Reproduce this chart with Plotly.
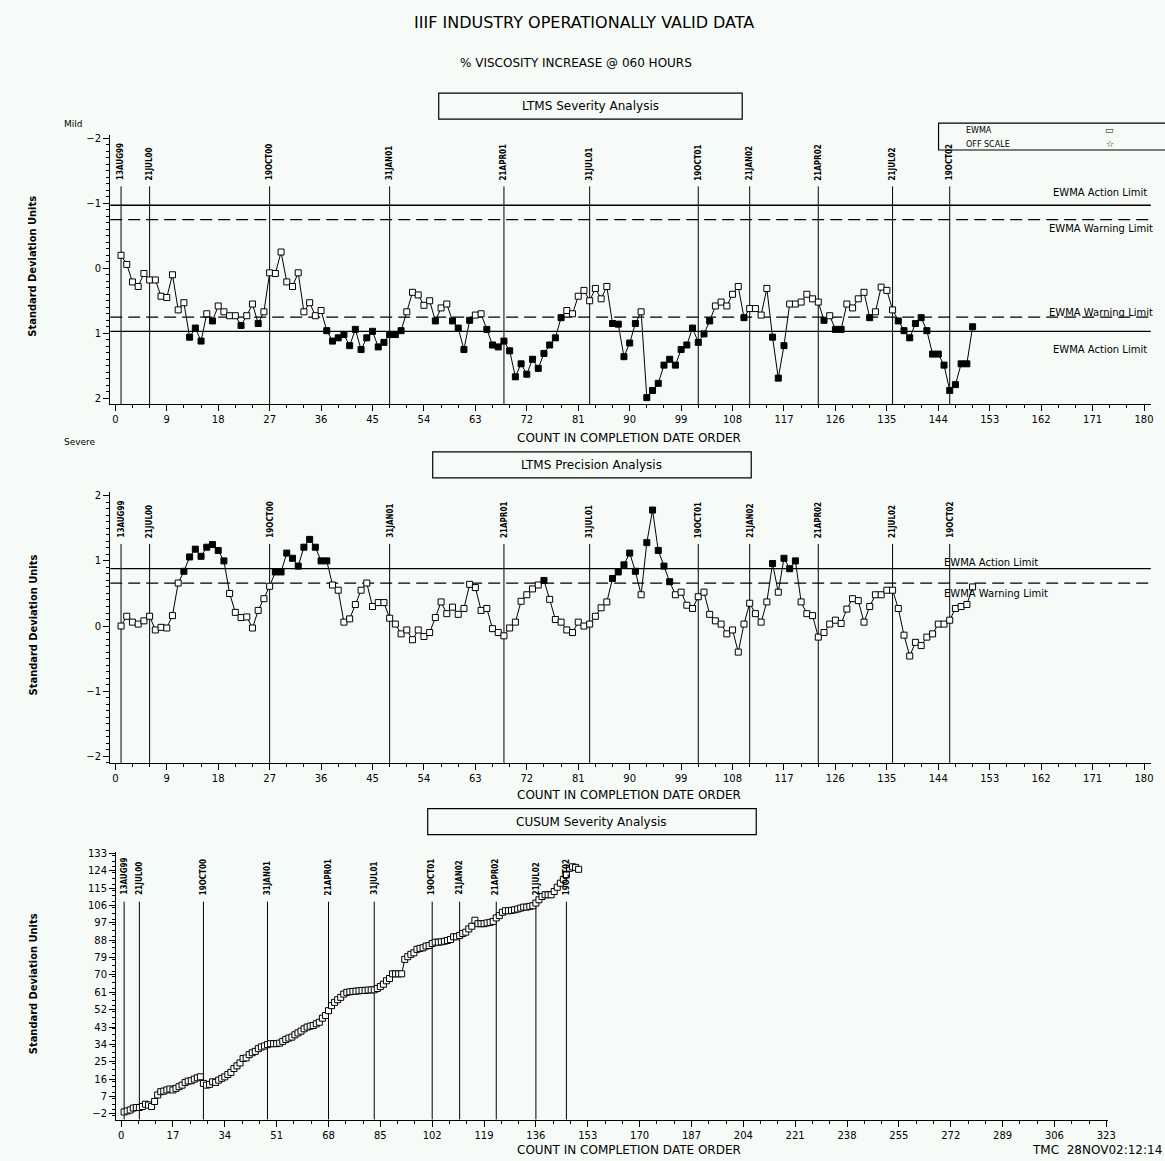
import plotly.graph_objects as go

# ---------------- data ----------------
RUN = list(range(1, 151))

SEVERITY_EWMA = [
    -0.20, -0.06, 0.21, 0.28, 0.08, 0.18, 0.18, 0.43, 0.45, 0.10,
    0.64, 0.53, 1.06, 0.92, 1.12, 0.70, 0.81, 0.58, 0.67, 0.73,
    0.73, 0.88, 0.73, 0.55, 0.85, 0.67, 0.07, 0.08, -0.25, 0.21,
    0.28, 0.07, 0.67, 0.53, 0.73, 0.65, 0.96, 1.12, 1.07, 1.02,
    1.19, 0.94, 1.25, 1.07, 0.97, 1.21, 1.14, 1.02, 1.02, 0.96,
    0.67, 0.37, 0.41, 0.57, 0.50, 0.81, 0.61, 0.55, 0.81, 0.92,
    1.25, 0.80, 0.72, 0.70, 0.94, 1.18, 1.21, 1.12, 1.27, 1.67,
    1.47, 1.63, 1.40, 1.54, 1.31, 1.18, 1.07, 0.76, 0.65, 0.70,
    0.43, 0.34, 0.50, 0.31, 0.47, 0.28, 0.85, 0.86, 1.36, 1.15,
    0.85, 0.67, 1.99, 1.88, 1.77, 1.49, 1.40, 1.49, 1.25, 1.18,
    0.92, 1.14, 1.01, 0.81, 0.58, 0.52, 0.58, 0.40, 0.28, 0.76,
    0.62, 0.62, 0.72, 0.31, 1.06, 1.69, 1.19, 0.55, 0.55, 0.52,
    0.40, 0.47, 0.52, 0.80, 0.73, 0.94, 0.94, 0.55, 0.61, 0.47,
    0.37, 0.76, 0.67, 0.29, 0.34, 0.64, 0.81, 0.96, 1.07, 0.85,
    0.76, 0.96, 1.32, 1.32, 1.49, 1.88, 1.79, 1.47, 1.47, 0.90,
]

PRECISION_EWMA = [
    0.00, 0.15, 0.06, 0.03, 0.08, 0.15, -0.06, -0.02, -0.03, 0.16,
    0.66, 0.84, 1.06, 1.18, 1.07, 1.21, 1.25, 1.16, 1.00, 0.50,
    0.21, 0.13, 0.14, -0.03, 0.24, 0.42, 0.61, 0.83, 0.83, 1.12,
    1.04, 0.92, 1.21, 1.33, 1.21, 1.00, 1.00, 0.63, 0.55, 0.06,
    0.11, 0.33, 0.55, 0.66, 0.30, 0.36, 0.36, 0.12, 0.03, -0.12,
    -0.06, -0.21, -0.06, -0.16, -0.10, 0.13, 0.37, 0.19, 0.29, 0.18,
    0.27, 0.64, 0.59, 0.24, 0.27, -0.04, -0.10, -0.15, -0.03, 0.06,
    0.38, 0.48, 0.57, 0.63, 0.70, 0.41, 0.10, 0.06, -0.06, -0.10,
    0.06, 0.00, 0.03, 0.15, 0.28, 0.37, 0.73, 0.83, 0.94, 1.12,
    0.84, 0.48, 1.28, 1.78, 1.16, 0.92, 0.68, 0.48, 0.52, 0.32,
    0.27, 0.45, 0.52, 0.18, 0.08, 0.03, -0.12, -0.06, -0.40, 0.03,
    0.35, 0.19, 0.06, 0.37, 0.96, 0.52, 1.04, 0.88, 1.00, 0.37,
    0.19, 0.16, -0.17, -0.10, 0.03, 0.09, 0.04, 0.26, 0.42, 0.39,
    0.06, 0.30, 0.48, 0.48, 0.55, 0.55, 0.27, -0.14, -0.46, -0.25,
    -0.30, -0.17, -0.12, 0.03, 0.03, 0.09, 0.27, 0.30, 0.33, 0.60,
]

CUSUM_SEVERITY = [
    -1.0, -0.5, 0.0, 1.0, 1.3, 1.3, 1.8, 3.0, 2.6, 1.8,
    4.4, 7.8, 9.5, 9.8, 10.4, 10.9, 10.4, 11.2, 12.1, 12.9,
    14.3, 15.0, 15.2, 16.0, 16.7, 17.2, 13.8, 12.9, 13.3, 14.6,
    14.3, 15.5, 16.4, 17.2, 18.4, 19.5, 21.5, 22.9, 24.4, 26.7,
    27.0, 28.7, 29.7, 30.4, 31.8, 32.7, 33.2, 33.9, 34.4, 34.4,
    34.4, 34.7, 35.6, 36.6, 37.3, 37.8, 39.0, 40.0, 40.9, 42.1,
    43.0, 43.5, 43.8, 44.7, 45.5, 47.6, 49.0, 51.5, 54.1, 55.8,
    57.2, 58.4, 60.1, 61.0, 61.3, 61.5, 61.6, 61.8, 62.0, 62.0,
    62.2, 62.3, 62.3, 63.0, 64.0, 65.2, 67.0, 68.2, 70.6, 70.6,
    70.6, 70.6, 78.1, 79.5, 80.7, 81.5, 83.3, 83.8, 84.1, 85.0,
    85.3, 86.3, 87.0, 87.0, 87.2, 87.5, 87.9, 88.4, 89.8, 89.8,
    90.5, 91.5, 92.2, 93.9, 95.3, 98.4, 96.6, 96.6, 96.6, 97.0,
    97.3, 97.8, 99.6, 100.8, 102.5, 103.3, 103.3, 103.5, 103.8, 104.2,
    104.7, 105.2, 105.2, 105.6, 105.9, 107.3, 109.0, 110.7, 111.6, 111.6,
    111.6, 113.3, 115.5, 117.6, 119.6, 121.9, 125.3, 126.1, 125.8, 124.8,
]

LAB_CHANGE_RUNS = [1, 6, 27, 48, 68, 83, 102, 111, 123, 136, 146]
LAB_CHANGE_LABELS = ["13AUG99", "21JUL00", "19OCT00", "31JAN01", "21APR01",
                     "31JUL01", "19OCT01", "21JAN02", "21APR02", "21JUL02", "19OCT02"]

SEV_ACTION_LIMIT = 0.97
SEV_WARNING_LIMIT = 0.75
PREC_ACTION_LIMIT = 0.88
PREC_WARNING_LIMIT = 0.66

EWMA_X_TICKS = list(range(0, 181, 9))
CUSUM_X_TICKS = list(range(0, 324, 17))
EWMA_Y_TICKS = [-2, -1, 0, 1, 2]
CUSUM_Y_TICKS = list(range(-2, 134, 9))

# ---------------- layout helpers ----------------
W, H = 1165, 1161
SX = 0.9915          # measured horizontal render factor of the page
BG = "#f7fbf7"
FONT = "DejaVu Sans"
NARROW = "Liberation Sans Narrow, DejaVu Sans Condensed, Arial Narrow, sans-serif"


def fx(px):
    return px / (W * SX)


def fy(py):
    return 1 - (py - 1.5) / H


TOP_X_RANGE = [-0.9, 181.2]
TOP_Y_RANGE = [2.09, -2.05]
MID_Y_RANGE = [-2.1, 2.06]
BOT_X_RANGE = [-1.6, 323.5]
BOT_Y_RANGE = [-5.0, 134.0]

fig = go.Figure()


def fills(vals, lim):
    return ["black" if abs(v) > lim else "white" for v in vals]


def add_series(y, xa, ya, fill):
    fig.add_trace(go.Scatter(
        x=RUN, y=y, mode="lines+markers", xaxis=xa, yaxis=ya,
        line=dict(color="black", width=1),
        marker=dict(symbol="square", size=6, color=fill,
                    line=dict(color="black", width=1)),
        showlegend=False, hoverinfo="x+y"))


def add_hline(yv, xa, ya, xr, dash):
    fig.add_trace(go.Scatter(
        x=xr, y=[yv, yv], mode="lines", xaxis=xa, yaxis=ya,
        line=dict(color="black", width=1.3, dash=dash),
        showlegend=False, hoverinfo="skip"))


# limit lines
DASH = "12px,6px"
for sgn in (-1, 1):
    add_hline(sgn * SEV_ACTION_LIMIT, "x", "y", TOP_X_RANGE, "solid")
    add_hline(sgn * SEV_WARNING_LIMIT, "x", "y", TOP_X_RANGE, DASH)
add_hline(PREC_ACTION_LIMIT, "x2", "y2", TOP_X_RANGE, "solid")
add_hline(PREC_WARNING_LIMIT, "x2", "y2", TOP_X_RANGE, DASH)

add_series(SEVERITY_EWMA, "x", "y", fills(SEVERITY_EWMA, SEV_WARNING_LIMIT))
add_series(PRECISION_EWMA, "x2", "y2", fills(PRECISION_EWMA, PREC_WARNING_LIMIT))
add_series(CUSUM_SEVERITY, "x3", "y3", ["white"] * len(CUSUM_SEVERITY))

shapes = []
annotations = []

# lab-change vertical lines + rotated labels
PANELS = [
    ("x", "y", TOP_Y_RANGE[0], -1.26, -1.32),
    ("x2", "y2", MID_Y_RANGE[0], 1.26, 1.32),
    ("x3", "y3", BOT_Y_RANGE[0], 108.0, 110.5),
]
for xa, ya, ybot, ytop, ylab in PANELS:
    for r, lab in zip(LAB_CHANGE_RUNS, LAB_CHANGE_LABELS):
        shapes.append(dict(type="line", xref=xa, yref=ya, x0=r, x1=r, y0=ybot, y1=ytop,
                           line=dict(color="black", width=1), layer="below"))
        annotations.append(dict(x=r, y=ylab, xref=xa, yref=ya, text="<b>" + lab + "</b>",
                                textangle=-90, showarrow=False, xanchor="center",
                                yanchor="bottom",
                                font=dict(family=NARROW, size=8, color="black")))


def text(px, py, s, size=10, xanchor="center", yanchor="middle", family=FONT, angle=0):
    annotations.append(dict(x=fx(px), y=fy(py), xref="paper", yref="paper", text=s,
                            showarrow=False, xanchor=xanchor, yanchor=yanchor,
                            textangle=angle, font=dict(family=family, size=size, color="black")))


def box(x0, y0, x1, y1):
    shapes.append(dict(type="rect", xref="paper", yref="paper", x0=fx(x0), x1=fx(x1),
                       y0=fy(y1), y1=fy(y0), line=dict(color="black", width=1.2),
                       fillcolor="rgba(0,0,0,0)"))


# titles
text(583, 20, "IIIF INDUSTRY OPERATIONALLY VALID DATA", size=16)
text(575, 61, "% VISCOSITY INCREASE @ 060 HOURS", size=12)

box(438, 91, 741, 117)
text(590, 104, "LTMS Severity Analysis", size=12)
box(432, 451, 750, 477)
text(591, 464, "LTMS Precision Analysis", size=12)
box(427, 809, 755, 835)
text(591, 822, "CUSUM Severity Analysis", size=12)

text(62, 122, "Mild", size=9, xanchor="left")
text(62, 441, "Severe", size=9, xanchor="left")

# legend box
box(937, 121, 1180, 148)
text(962, 128, "EWMA", size=8, xanchor="left")
text(962, 142, "OFF SCALE", size=8, xanchor="left")
text(1108, 128, "▭", size=9)
text(1108, 142, "☆", size=9)

# limit labels
text(1147, 191, "EWMA Action Limit", size=10, xanchor="right")
text(1153, 227, "EWMA Warning Limit", size=10, xanchor="right")
text(1153, 311, "EWMA Warning Limit", size=10, xanchor="right")
text(1147, 348, "EWMA Action Limit", size=10, xanchor="right")
text(940, 562, "EWMA Action Limit", size=10, xanchor="left")
text(940, 593, "EWMA Warning Limit", size=10, xanchor="left")

# axis titles
text(628, 437, "COUNT IN COMPLETION DATE ORDER", size=12)
text(628, 795, "COUNT IN COMPLETION DATE ORDER", size=12)
text(628, 1151, "COUNT IN COMPLETION DATE ORDER", size=12)
text(1162, 1151, "TMC  28NOV02:12:14", size=12, xanchor="right")
for pyc in (265, 625, 985):
    text(33, pyc, "<b>Standard Deviation Units</b>", size=11, family=NARROW, angle=-90)

tickfont = dict(family=FONT, size=10, color="black")


def xaxis_cfg(dom, rng, ticks, anchor, minor_dt):
    return dict(domain=dom, range=rng, anchor=anchor, tickvals=ticks,
                ticktext=[str(t) for t in ticks], showline=True, linecolor="black",
                linewidth=1.2, ticks="outside", ticklen=6, tickcolor="black", tickwidth=1,
                showgrid=False, zeroline=False, tickfont=tickfont,
                minor=dict(dtick=minor_dt, tick0=0, ticks="outside", ticklen=3,
                           tickcolor="black", showgrid=False))


def yaxis_cfg(dom, rng, ticks, anchor, minor_dt, labels):
    return dict(domain=dom, range=rng, anchor=anchor, tickvals=ticks, ticktext=labels,
                showline=True, linecolor="black", linewidth=1.2, ticks="outside",
                ticklen=6, tickcolor="black", tickwidth=1, showgrid=False,
                zeroline=False, tickfont=tickfont,
                minor=dict(dtick=minor_dt, tick0=0, ticks="outside", ticklen=3,
                           tickcolor="black", showgrid=False))


ewma_lbl = [("−" + str(abs(t))) if t < 0 else str(t) for t in EWMA_Y_TICKS]
cusum_lbl = [("−" + str(abs(t))) if t < 0 else str(t) for t in CUSUM_Y_TICKS]

fig.update_layout(
    width=W, height=H, autosize=False,
    margin=dict(l=0, r=0, t=0, b=0),
    paper_bgcolor=BG, plot_bgcolor=BG,
    showlegend=False,
    xaxis=xaxis_cfg([fx(110), fx(1149)], TOP_X_RANGE, EWMA_X_TICKS, "y", 3),
    yaxis=yaxis_cfg([fy(403), fy(133)], TOP_Y_RANGE, EWMA_Y_TICKS, "x", 0.1, ewma_lbl),
    xaxis2=xaxis_cfg([fx(110), fx(1149)], TOP_X_RANGE, EWMA_X_TICKS, "y2", 3),
    yaxis2=yaxis_cfg([fy(763), fy(491)], MID_Y_RANGE, EWMA_Y_TICKS, "x2", 0.1, ewma_lbl),
    xaxis3=xaxis_cfg([fx(116), fx(1106)], BOT_X_RANGE, CUSUM_X_TICKS, "y3", 17 / 3),
    yaxis3=yaxis_cfg([fy(1121), fy(852)], BOT_Y_RANGE, CUSUM_Y_TICKS, "x3", 3, cusum_lbl),
    shapes=shapes,
    annotations=annotations,
)

PAGE_FIX = ("document.body.style.margin='0px';document.body.style.padding='0px';"
            "document.body.style.overflow='hidden';"
            "document.documentElement.style.overflow='hidden';"
            "document.body.style.background='" + BG + "';")

fig.write_html("out.html", post_script=PAGE_FIX,
               config={"responsive": False, "displayModeBar": False})
